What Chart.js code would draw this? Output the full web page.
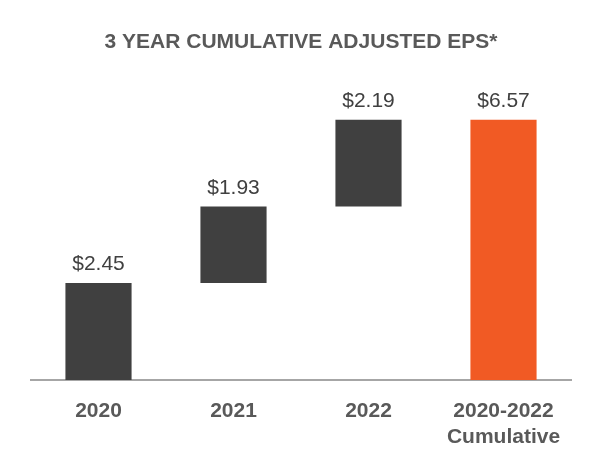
<!DOCTYPE html>
<html>
<head>
<meta charset="utf-8">
<script src="https://cdn.jsdelivr.net/npm/chart.js@4.4.0/dist/chart.umd.min.js"></script>
<style>
  html, body { margin: 0; padding: 0; background: #fff; }
  #wrap { width: 600px; height: 450px; }
</style>
</head>
<body>
<div id="wrap"><canvas id="epsChart"></canvas></div>
<script>
const categories = [['2020'], ['2021'], ['2022'], ['2020-2022', 'Cumulative']];
const yearlyEps = [2.45, 1.93, 2.19];
const cumulativeEps = 6.57;
const barLabels = ['$2.45', '$1.93', '$2.19', '$6.57'];

// waterfall: each year floats on top of the previous running total
const floating = [];
let running = 0;
yearlyEps.forEach(v => {
    floating.push([running, +(running + v).toFixed(2)]);
    running += v;
});
floating.push([0, cumulativeEps]);

const fontFamily = '"Liberation Sans", Arial, sans-serif';

const valueLabels = {
    id: 'valueLabels',
    afterDatasetsDraw(chart) {
        const ctx = chart.ctx;
        const meta = chart.getDatasetMeta(0);
        ctx.save();
        ctx.font = '21px ' + fontFamily;
        ctx.fillStyle = '#404040';
        ctx.textAlign = 'center';
        ctx.textBaseline = 'bottom';
        meta.data.forEach((bar, i) => {
            ctx.fillText(barLabels[i], bar.x, bar.y - 8);
        });
        ctx.restore();
    }
};

new Chart(document.getElementById('epsChart'), {
    type: 'bar',
    data: {
        labels: categories,
        datasets: [{
            data: floating,
            backgroundColor: ['#404040', '#404040', '#404040', '#f15a24'],
            borderWidth: 0,
            borderSkipped: false,
            barPercentage: 0.49,
            categoryPercentage: 1
        }]
    },
    options: {
        responsive: true,
        maintainAspectRatio: false,
        animation: false,
        layout: { padding: { left: 31, right: 29, bottom: 0 } },
        plugins: {
            legend: { display: false },
            tooltip: { enabled: false },
            title: {
                display: true,
                text: '3 YEAR CUMULATIVE ADJUSTED EPS*',
                color: '#595959',
                font: { family: fontFamily, size: 21, weight: 'bold' },
                padding: { top: 30, bottom: 8 }
            }
        },
        scales: {
            x: {
                grid: { display: false, drawTicks: false },
                border: { display: true, color: '#a6a6a6', width: 2 },
                ticks: {
                    color: '#595959',
                    padding: 18,
                    font: { family: fontFamily, size: 21, weight: 'bold', lineHeight: 1.25 }
                },
                afterFit: scale => { scale.height = 70; }
            },
            y: { display: false, min: 0, max: 8 }
        }
    },
    plugins: [valueLabels]
});
</script>
</body>
</html>
